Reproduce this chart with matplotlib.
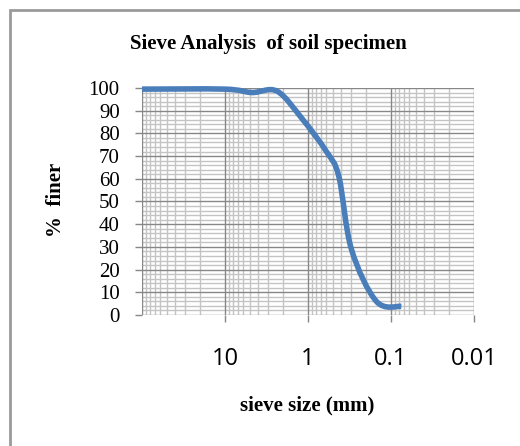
import numpy as np
import matplotlib
matplotlib.use("Agg")
import matplotlib.pyplot as plt
from matplotlib.path import Path
from matplotlib.patches import PathPatch, Rectangle
from matplotlib.ticker import FixedLocator, NullFormatter

# sieve size (mm) and % finer
sieve_mm = [100, 10, 4.75, 2.36, 1.18, 0.6, 0.425, 0.3, 0.15, 0.075]
pct_finer = [99.5, 99.5, 98.0, 98.6, 86.5, 72.0, 61.0, 29.0, 6.0, 3.8]

x_ticks = [10, 1, 0.1, 0.01]
x_ticklabels = ["10", "1", "0.1", "0.01"]
y_ticks = list(range(0, 101, 10))

major_col = "#878787"
minor_col = "#c4c4c4"
line_col = "#4a7ebb"


def smooth_path(xs, ys, tension=1 / 6):
    # Catmull-Rom style bezier in log-x space, like Excel's smoothed line
    lx = np.log10(xs)
    y = np.asarray(ys, float)
    n = len(lx)
    verts = [(xs[0], y[0])]
    codes = [Path.MOVETO]
    for i in range(n - 1):
        p0 = max(i - 1, 0)
        p3 = min(i + 2, n - 1)
        c1x = lx[i] + (lx[i + 1] - lx[p0]) * tension
        c1y = y[i] + (y[i + 1] - y[p0]) * tension
        c2x = lx[i + 1] - (lx[p3] - lx[i]) * tension
        c2y = y[i + 1] - (y[p3] - y[i]) * tension
        verts += [(10 ** c1x, c1y), (10 ** c2x, c2y), (xs[i + 1], y[i + 1])]
        codes += [Path.CURVE4] * 3
    return Path(verts, codes)


fig = plt.figure(figsize=(5.2, 4.46), dpi=100)
fig.patches.append(Rectangle((10 / 520, -0.1), 1.2, (436 / 446) + 0.1,
                             transform=fig.transFigure, fill=False,
                             edgecolor="#9a9a9a", linewidth=2))

ax = fig.add_axes([142 / 520, 131 / 446, 332 / 520, 227 / 446])
ax.set_xscale("log")
ax.set_xlim(100, 0.01)
ax.set_ylim(0, 100)

# grid
minor_x = [m * 10.0 ** e for e in range(-2, 2) for m in range(2, 10)]
for v in minor_x:
    ax.axvline(v, color=minor_col, lw=1, zorder=1)
for v in np.arange(2, 100, 2):
    if v % 10:
        ax.axhline(v, color=minor_col, lw=1, zorder=1)
for v in [100, 10, 1, 0.1, 0.01]:
    ax.axvline(v, color=major_col, lw=1, zorder=2)
for v in y_ticks:
    ax.axhline(v, color=major_col, lw=1, zorder=2)

for s in ax.spines.values():
    s.set_visible(False)

ax.add_patch(PathPatch(smooth_path(sieve_mm, pct_finer), fill=False,
                       edgecolor=line_col, lw=4, capstyle="butt",
                       joinstyle="round", zorder=5, clip_on=False))

ax.xaxis.set_major_locator(FixedLocator(x_ticks))
ax.set_xticklabels(x_ticklabels)
ax.xaxis.set_minor_locator(FixedLocator([]))
ax.xaxis.set_minor_formatter(NullFormatter())
ax.set_yticks(y_ticks)
ax.tick_params(axis="x", length=5, width=1, color=major_col, pad=18,
               labelsize=17)
ax.tick_params(axis="y", length=5, width=1, color=major_col, pad=11,
               labelsize=15)
for lab in ax.get_xticklabels():
    lab.set_family("Open Sans")
for lab in ax.get_yticklabels():
    lab.set_family("Liberation Serif")

fig.text(268 / 520, 1 - 44 / 446, "Sieve Analysis  of soil specimen",
         family="Liberation Serif", weight="bold", fontsize=15,
         ha="center", va="center")
fig.text(56 / 520, 1 - 200 / 446, "%  finer", family="Liberation Serif",
         weight="bold", fontsize=15, rotation=90, ha="center", va="center")
fig.text(307 / 520, 1 - 405 / 446, "sieve size (mm)",
         family="Liberation Serif", weight="bold", fontsize=15,
         ha="center", va="center")

fig.savefig("out.png", dpi=100)
